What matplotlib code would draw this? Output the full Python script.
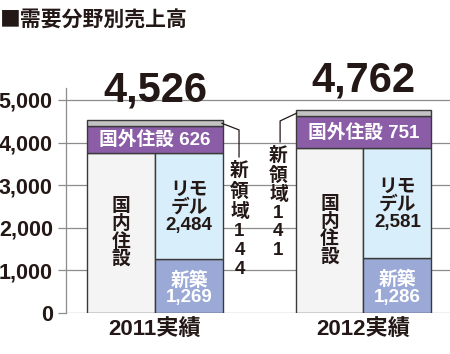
import numpy as np
import matplotlib
matplotlib.use('Agg')
import matplotlib.pyplot as plt

# digits in a Helvetica-like face, kanji fall back to Noto CJK
plt.rcParams['font.family'] = ['Liberation Sans', 'Noto Sans CJK JP', 'DejaVu Sans']

# data (単位: 億円)
years = ['2011実績', '2012実績']
shinchiku = np.array([1269, 1286])   # 新築
remodel = np.array([2484, 2581])     # リモデル
overseas = np.array([626, 751])      # 国外住設
new_area = np.array([144, 141])      # 新領域
totals = ['4,526', '4,762']
yticks = [0, 1000, 2000, 3000, 4000, 5000]

domestic = shinchiku + remodel       # 国内住設

# colours
c_dom = '#f4f4f5'
c_new = '#9aa9d6'
c_rem = '#d8eefa'
c_ovs = '#8a5da6'
c_band = '#c3c3c3'
c_edge = '#3a3a3a'
c_txt = '#231815'
c_grid = '#8c8c8c'

fig = plt.figure(figsize=(4.5, 3.54), dpi=100)
ax = fig.add_axes([66 / 450, 41 / 354, 384 / 450, 225 / 354])

x = np.arange(len(years))
half = 0.326
fs = 13.5

# grid lines behind bars
for t in yticks:
    ax.axhline(t, color=c_grid, lw=0.9, zorder=0)

kw = dict(edgecolor=c_edge, linewidth=1.0, zorder=2)
ax.bar(x - half / 2, domestic, width=half, color=c_dom, **kw)
ax.bar(x + half / 2, shinchiku, width=half, color=c_new, **kw)
ax.bar(x + half / 2, remodel, width=half, bottom=shinchiku, color=c_rem, **kw)
ax.bar(x, overseas, width=2 * half, bottom=domestic, color=c_ovs, **kw)
ax.bar(x, new_area, width=2 * half, bottom=domestic + overseas, color=c_band, **kw)

for i in range(len(years)):
    ax.text(x[i] - half / 2, domestic[i] / 2, '国\n内\n住\n設', ha='center', va='center',
            fontsize=fs, fontweight='bold', color=c_txt, linespacing=0.98, zorder=3)
    ax.text(x[i] + half / 2, shinchiku[i] + remodel[i] / 2 - 40,
            'リモ\nデル\n{:,}'.format(remodel[i]), ha='center', va='center',
            fontsize=fs, fontweight='bold', color=c_txt, linespacing=1.0, zorder=3)
    ax.text(x[i] + half / 2, shinchiku[i] * 0.45, '新築\n{:,}'.format(shinchiku[i]),
            ha='center', va='center', fontsize=fs, fontweight='bold', color='white',
            linespacing=1.0, zorder=3)
    ax.text(x[i], domestic[i] + overseas[i] / 2, '国外住設 {}'.format(overseas[i]),
            ha='center', va='center', fontsize=fs, fontweight='bold', color='white', zorder=3)
    ax.text(x[i], domestic[i] + overseas[i] + new_area[i] + 450, totals[i], ha='center',
            va='baseline', fontsize=30, fontweight='bold', color=c_txt, zorder=3)

# 新領域 leaders and labels
band_mid = domestic + overseas + new_area / 2
ax.plot([x[0] + half - 0.005, 0.403, 0.403], [band_mid[0], 4296, 3662],
        color=c_txt, lw=0.9, zorder=3, clip_on=False)
ax.text(0.405, 3540, '新\n領\n域\n{}'.format('\n'.join(str(new_area[0]))), ha='center',
        va='top', fontsize=fs, fontweight='bold', color=c_txt, linespacing=1.16, zorder=3)
ax.plot([x[1] - half + 0.005, 0.600, 0.600], [band_mid[1], 4507, 4014],
        color=c_txt, lw=0.9, zorder=3, clip_on=False)
ax.text(0.592, 3900, '新\n領\n域\n{}'.format('\n'.join(str(new_area[1]))), ha='center',
        va='top', fontsize=fs, fontweight='bold', color=c_txt, linespacing=1.1, zorder=3)

ax.set_xlim(-0.427, 1.415)
ax.set_ylim(0, 5280)
ax.set_yticks(yticks)
ax.set_yticklabels(['{:,}'.format(t) for t in yticks], fontsize=15.5, fontweight='bold',
                   color=c_txt)
ax.set_xticks(x)
ax.set_xticklabels(years, fontsize=16, fontweight='bold', color=c_txt)
ax.tick_params(axis='x', length=0, pad=5)
ax.tick_params(axis='y', length=6, width=0.9, color=c_grid, pad=3.5)
for s in ['top', 'right', 'bottom']:
    ax.spines[s].set_visible(False)
ax.spines['left'].set_color(c_grid)
ax.spines['left'].set_linewidth(0.9)

fig.text(0.0, 1 - 20 / 354, '■需要分野別売上高', ha='left', va='center', fontsize=15,
         fontweight='bold', color=c_txt, family=['Noto Sans CJK JP', 'DejaVu Sans'])

fig.savefig('out.png', dpi=100)
